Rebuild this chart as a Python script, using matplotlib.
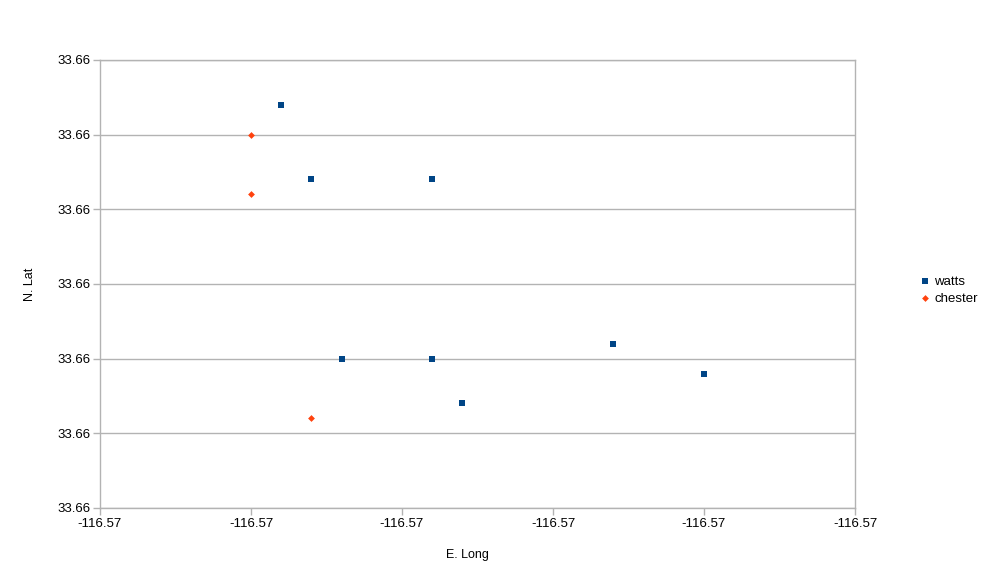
import matplotlib
matplotlib.use('Agg')
import matplotlib.pyplot as plt
from matplotlib.ticker import MultipleLocator, FormatStrFormatter

plt.rcParams['font.family'] = ['Liberation Sans', 'DejaVu Sans']

# E. Long / N. Lat readings
watts_long = [-116.5728, -116.5726, -116.5718, -116.5724, -116.5718, -116.5716, -116.5706, -116.5700]
watts_lat = [33.66240, 33.66140, 33.66140, 33.65900, 33.65900, 33.65840, 33.65920, 33.65880]
chester_long = [-116.5730, -116.5730, -116.5726]
chester_lat = [33.66200, 33.66120, 33.65820]

x_min, x_max = -116.5740, -116.5690
y_min, y_max = 33.6570, 33.6630

grid_col = '#b3b3b3'

fig = plt.figure(figsize=(9.91, 5.84), dpi=100)
ax = fig.add_axes([100 / 991, 76 / 584, 755 / 991, 448 / 584])

ax.scatter(watts_long, watts_lat, marker='s', s=18, color='#004586', label='watts', zorder=3, linewidths=0)
ax.scatter(chester_long, chester_lat, marker='D', s=12, color='#ff420e', label='chester', zorder=3, linewidths=0)

ax.set_xlim(x_min, x_max)
ax.set_ylim(y_min, y_max)
ax.xaxis.set_major_locator(MultipleLocator(0.001))
ax.yaxis.set_major_locator(MultipleLocator(0.001))
ax.xaxis.set_major_formatter(FormatStrFormatter('%.2f'))
ax.yaxis.set_major_formatter(FormatStrFormatter('%.2f'))
ax.grid(axis='y', color=grid_col, linewidth=1)
ax.set_axisbelow(True)

for sp in ax.spines.values():
    sp.set_color(grid_col)
    sp.set_linewidth(1)

ax.tick_params(axis='both', colors=grid_col, labelcolor='black', labelsize=9.5, length=5, width=1, direction='out')
ax.tick_params(axis='x', pad=2)
ax.tick_params(axis='y', pad=2)

fig.text(467 / 991, 1 - 555 / 584, 'E. Long', ha='center', va='center', fontsize=9)
fig.text(30 / 991, 1 - 284 / 584, 'N. Lat', ha='center', va='center', fontsize=9, rotation=90)

fig.legend(loc='center left', bbox_to_anchor=(912 / 991, 1 - 290 / 584), frameon=False,
           fontsize=9.5, handletextpad=0.1, handlelength=1.2, labelspacing=0.35, borderaxespad=0)

fig.savefig('out.png', dpi=100)
